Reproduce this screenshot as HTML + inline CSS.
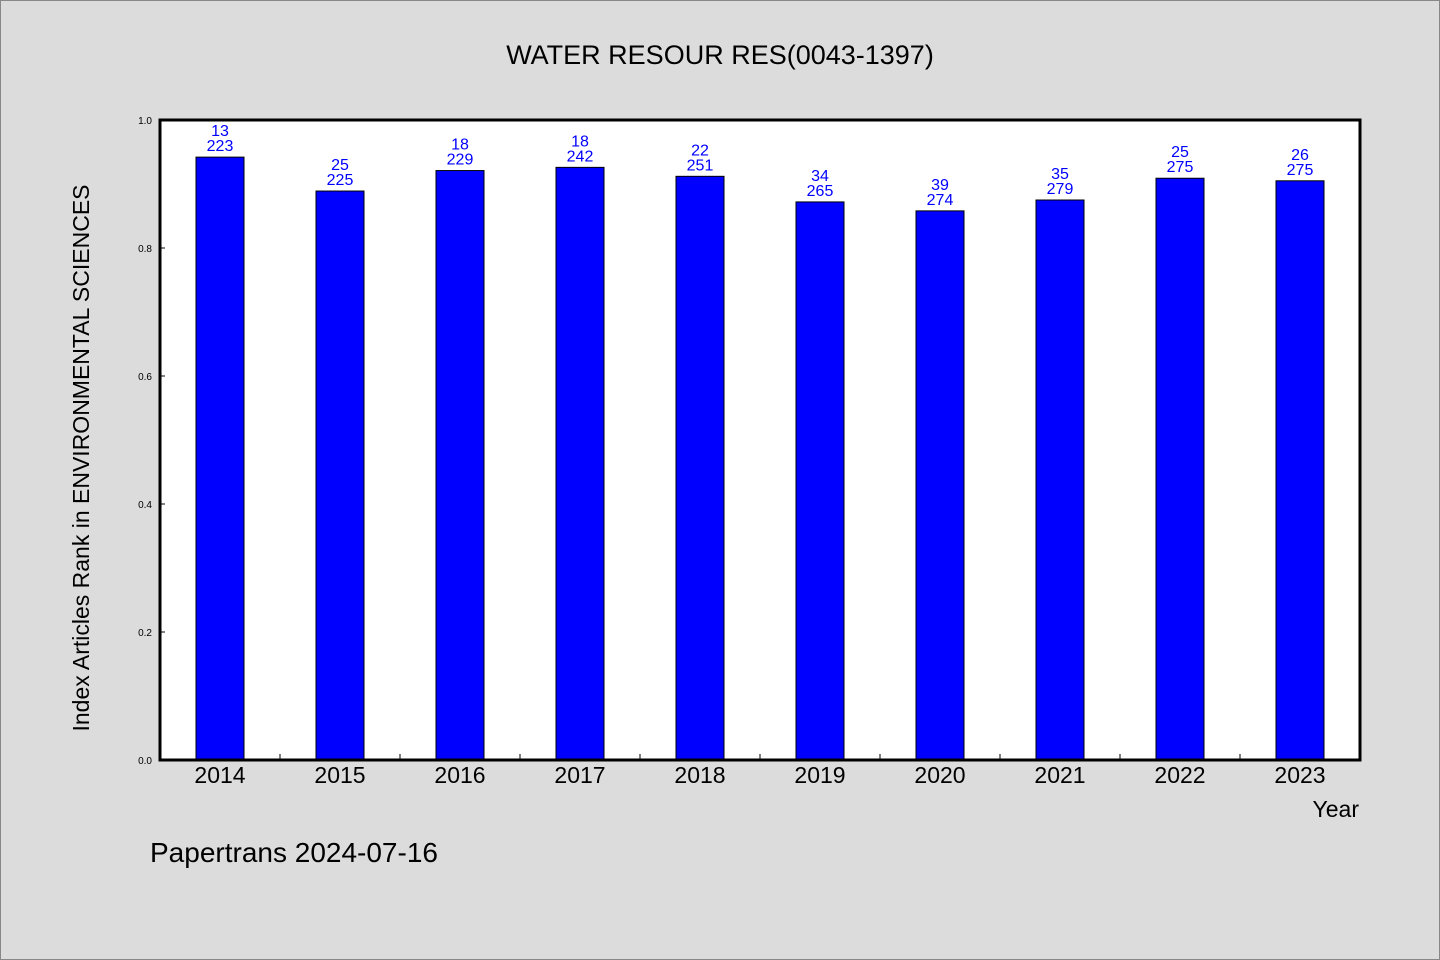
<!DOCTYPE html>
<html><head><meta charset="utf-8"><style>
html,body{margin:0;padding:0;background:#dcdcdc;}
svg{display:block;font-family:"WenQuanYi Zen Hei","Liberation Sans",sans-serif;}
</style></head><body>
<svg id="chart" width="1440" height="960" viewBox="0 0 1440 960">
<rect x="0.5" y="0.5" width="1439" height="959" fill="#dcdcdc" stroke="#888"/>
<text x="720" y="64" font-size="27" text-anchor="middle">WATER RESOUR RES(0043-1397)</text>
<rect x="160" y="120" width="1200" height="640" fill="#fff"/>
<g id="bars"></g>
<rect x="160" y="120" width="1200" height="640" fill="none" stroke="#000" stroke-width="3"/>
<text transform="translate(89,458) rotate(-90)" font-size="23" text-anchor="middle">Index Articles Rank in ENVIRONMENTAL SCIENCES</text>
<text x="1359" y="817" font-size="23" text-anchor="end">Year</text>
<text x="150" y="862" font-size="28">Papertrans 2024-07-16</text>
</svg>
<script>
const years=["2014","2015","2016","2017","2018","2019","2020","2021","2022","2023"];
const values=[0.942,0.889,0.921,0.926,0.912,0.872,0.858,0.875,0.909,0.905];
const ranks=["13","25","18","18","22","34","39","35","25","26"];
const totals=["223","225","229","242","251","265","274","279","275","275"];
const yTicks=[0,0.2,0.4,0.6,0.8,1.0];
const NS="http://www.w3.org/2000/svg";
const X0=160,W=1200,Y0=760,H=640;
const band=W/years.length;
const xC=i=>X0+band*(i+0.5);
const yS=v=>Y0-v*H;
const g=document.getElementById('bars');
const svg=document.getElementById('chart');
function mk(t,a,p){const e=document.createElementNS(NS,t);for(const k in a)e.setAttribute(k,a[k]);(p||g).appendChild(e);return e;}
years.forEach((y,i)=>{
 const r=mk('rect',{x:xC(i)-24,y:yS(values[i]),width:48,height:Y0-yS(values[i]),fill:'#0000ff',stroke:'#000','stroke-width':1});
 
 
 const t1=mk('text',{x:xC(i),y:yS(values[i])-21,'font-size':16,'text-anchor':'middle',fill:'#0000ff'});
 t1.textContent=ranks[i];
 
 
 const t2=mk('text',{x:xC(i),y:yS(values[i])-6,'font-size':16,'text-anchor':'middle',fill:'#0000ff'});
 t2.textContent=totals[i];
 
 
 const xl=mk('text',{x:xC(i),y:783,'font-size':23,'text-anchor':'middle'},svg);
 xl.textContent=y;
 
 
 if(i>0){const tk=mk('line',{x1:X0+band*i,x2:X0+band*i,y1:Y0,y2:Y0-6,stroke:'#000','stroke-width':1},svg);
 
 }
});
yTicks.forEach(v=>{
 const t=mk('text',{x:152,y:yS(v)+4,'font-size':10,'text-anchor':'end'},svg);
 t.textContent=v.toFixed(1);
 
 
 const l=mk('line',{x1:X0,x2:X0+5,y1:yS(v),y2:yS(v),stroke:'#000','stroke-width':1},svg);
 
 
});
</script>
</body></html>
